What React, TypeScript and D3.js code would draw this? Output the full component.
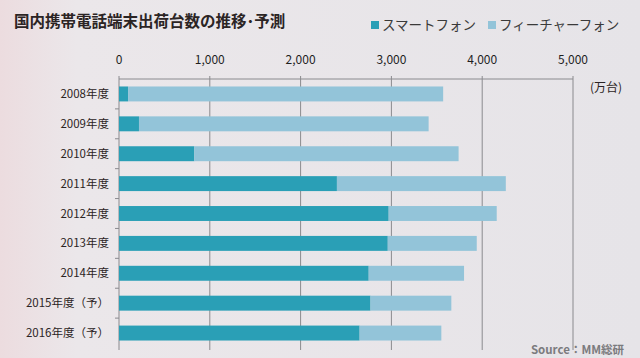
import React from "react";
import * as d3 from "d3";

const categories = ["2008年度", "2009年度", "2010年度", "2011年度", "2012年度", "2013年度", "2014年度", "2015年度（予）", "2016年度（予）"];
const smartphone = [100, 220, 830, 2400, 2970, 2960, 2750, 2770, 2650];
const featurephone = [3470, 3190, 2910, 1860, 1190, 980, 1050, 890, 900];
const xTicks = [0, 1000, 2000, 3000, 4000, 5000];
const seriesNames = ["スマートフォン", "フィーチャーフォン"];
const colors = ["#2a9fb6", "#93c4d9"];

const W = 640, H = 358;
const left = 119, right = 573, top = 79, bottom = 348;

export default function App() {
  const x = d3.scaleLinear().domain([0, 5000]).range([left, right]);
  const y = d3.scaleBand().domain(categories).range([top, bottom]).paddingInner(0.5).paddingOuter(0.25);
  const font = "'Noto Sans CJK JP', 'Noto Sans', sans-serif";
  const fmt = d3.format(",");
  const step = y.step();
  return (
    <svg width={W} height={H} style={{ position: "absolute", left: 0, top: 0 }} fontFamily={font}>
      <defs>
        <linearGradient id="bg" x1="0" x2="1" y1="0" y2="0">
          <stop offset="0" stopColor="#ecdcdf" />
          <stop offset="0.12" stopColor="#ebe7ea" />
          <stop offset="1" stopColor="#e6e4e8" />
        </linearGradient>
      </defs>
      <rect width={W} height={H} fill="url(#bg)" />
      <text x={14} y={27} fontSize={15.5} fontWeight="bold" fill="#2b2424">国内携帯電話端末出荷台数の推移･予測</text>
      {seriesNames.map((n, i) => {
        const lx = i === 0 ? 371 : 488;
        return (
          <g key={n}>
            <rect x={lx} y={21} width={8} height={8} fill={colors[i]} />
            <text x={lx + 11} y={30} fontSize={13.5} fill="#3a3a3a">{n}</text>
          </g>
        );
      })}
      {xTicks.map(t => (
        <g key={t}>
          <line x1={x(t)} x2={x(t)} y1={top - 3} y2={bottom + 2} stroke="#8a8a8e" strokeWidth={1} />
          <text x={x(t)} y={64} fontSize={12} textAnchor="middle" fill="#1f1f1f">{fmt(t)}</text>
        </g>
      ))}
      <line x1={left} x2={right} y1={top} y2={top} stroke="#8a8a8e" />
      {categories.map((c, i) => {
        const yb = y(c)!;
        const tickY = yb - (step - y.bandwidth()) / 2;
        return (
          <g key={c}>
            {i > 0 && <line x1={left - 4} x2={left} y1={tickY} y2={tickY} stroke="#8a8a8e" />}
            <rect x={x(0)} y={yb} width={x(smartphone[i]) - x(0)} height={y.bandwidth()} fill={colors[0]} />
            <rect x={x(smartphone[i])} y={yb} width={x(smartphone[i] + featurephone[i]) - x(smartphone[i])} height={y.bandwidth()} fill={colors[1]} />
            <text x={109} y={yb + y.bandwidth() / 2 + 4} fontSize={11.5} textAnchor="end" fill="#2b2424">{c}</text>
          </g>
        );
      })}
      <text x={590} y={92} fontSize={12} fill="#2b2424">(万台)</text>
      <text x={624} y={354} fontSize={11.5} fontWeight="bold" textAnchor="end" fill="#7b7b7e">Source：MM総研</text>
    </svg>
  );
}
